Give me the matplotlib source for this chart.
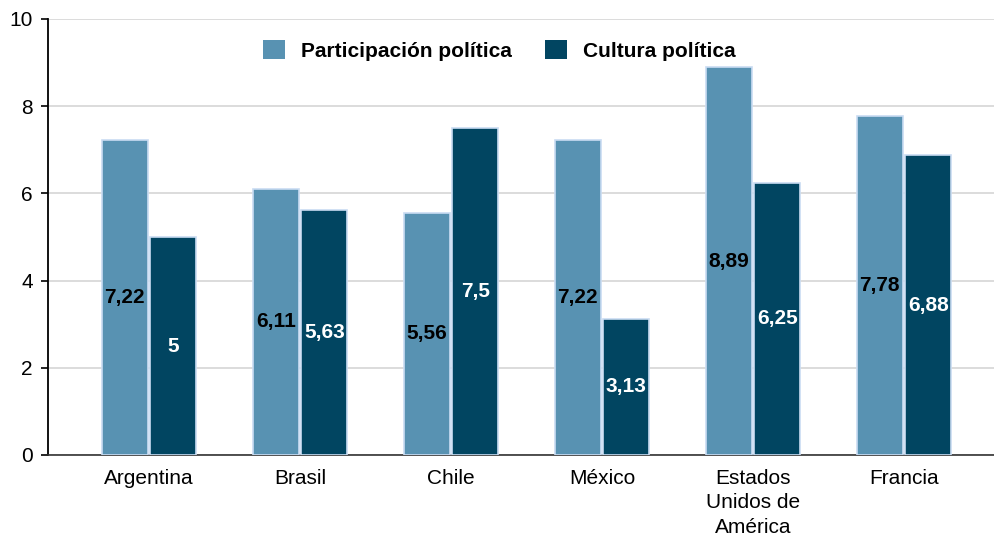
import matplotlib
matplotlib.use("Agg")
import matplotlib.pyplot as plt
import numpy as np

plt.rcParams['font.family'] = ['Liberation Sans', 'DejaVu Sans']

categories = ["Argentina", "Brasil", "Chile", "México", "Estados\nUnidos de\nAmérica", "Francia"]
participacion = [7.22, 6.11, 5.56, 7.22, 8.89, 7.78]
cultura = [5, 5.63, 7.5, 3.13, 6.25, 6.88]
series_names = ["Participación política", "Cultura política"]
yticks = [0, 2, 4, 6, 8, 10]

light = "#5892b2"
dark = "#014561"
edge = "#c9dcf2"

W, H = 994, 537
fig = plt.figure(figsize=(W / 100, H / 100), dpi=100)
ax = fig.add_axes([48 / W, (H - 455) / H, (W - 48) / W, 436 / H])

x = np.arange(len(categories))
bw = 0.305
off = 0.161
b1 = ax.bar(x - off, participacion, bw, color=light, edgecolor=edge, linewidth=1.2,
            label=series_names[0], zorder=3)
b2 = ax.bar(x + off, cultura, bw, color=dark, edgecolor=edge, linewidth=1.2,
            label=series_names[1], zorder=3)


def fmt(v):
    s = f"{v:.2f}".rstrip("0").rstrip(".")
    return s.replace(".", ",")


for bars, vals, col in ((b1, participacion, "black"), (b2, cultura, "white")):
    for r, v in zip(bars, vals):
        ax.text(r.get_x() + r.get_width() / 2, v / 2, fmt(v),
                ha="center", va="center",
                fontsize=15, fontweight="bold", color=col, zorder=4)

ax.set_ylim(0, 10)
ax.set_xlim(-0.669, 5.596)
ax.set_yticks(yticks)
ax.set_yticklabels([str(t) for t in yticks], fontsize=15)
ax.set_xticks(x)
ax.set_xticklabels(categories, fontsize=15, linespacing=1.36)
ax.tick_params(axis="x", length=0, pad=10)
ax.tick_params(axis="y", length=5, width=1.2, color="black", pad=6)
ax.yaxis.grid(True, color="#d6d6d6", linewidth=1.2, zorder=0)
ax.set_axisbelow(True)
for s in ("top", "right"):
    ax.spines[s].set_visible(False)
ax.spines["left"].set_color("black")
ax.spines["left"].set_linewidth(1.3)
ax.spines["bottom"].set_color("#333333")
ax.spines["bottom"].set_linewidth(1.2)

leg = ax.legend(loc="upper center", bbox_to_anchor=(0.477, 0.995), ncol=2, frameon=False,
                prop={"weight": "bold", "size": 15}, handlelength=1.05, handleheight=1.05,
                columnspacing=1.6, handletextpad=0.75)
for h in leg.legend_handles:
    h.set_edgecolor("none")

fig.savefig("out.png", dpi=100)
